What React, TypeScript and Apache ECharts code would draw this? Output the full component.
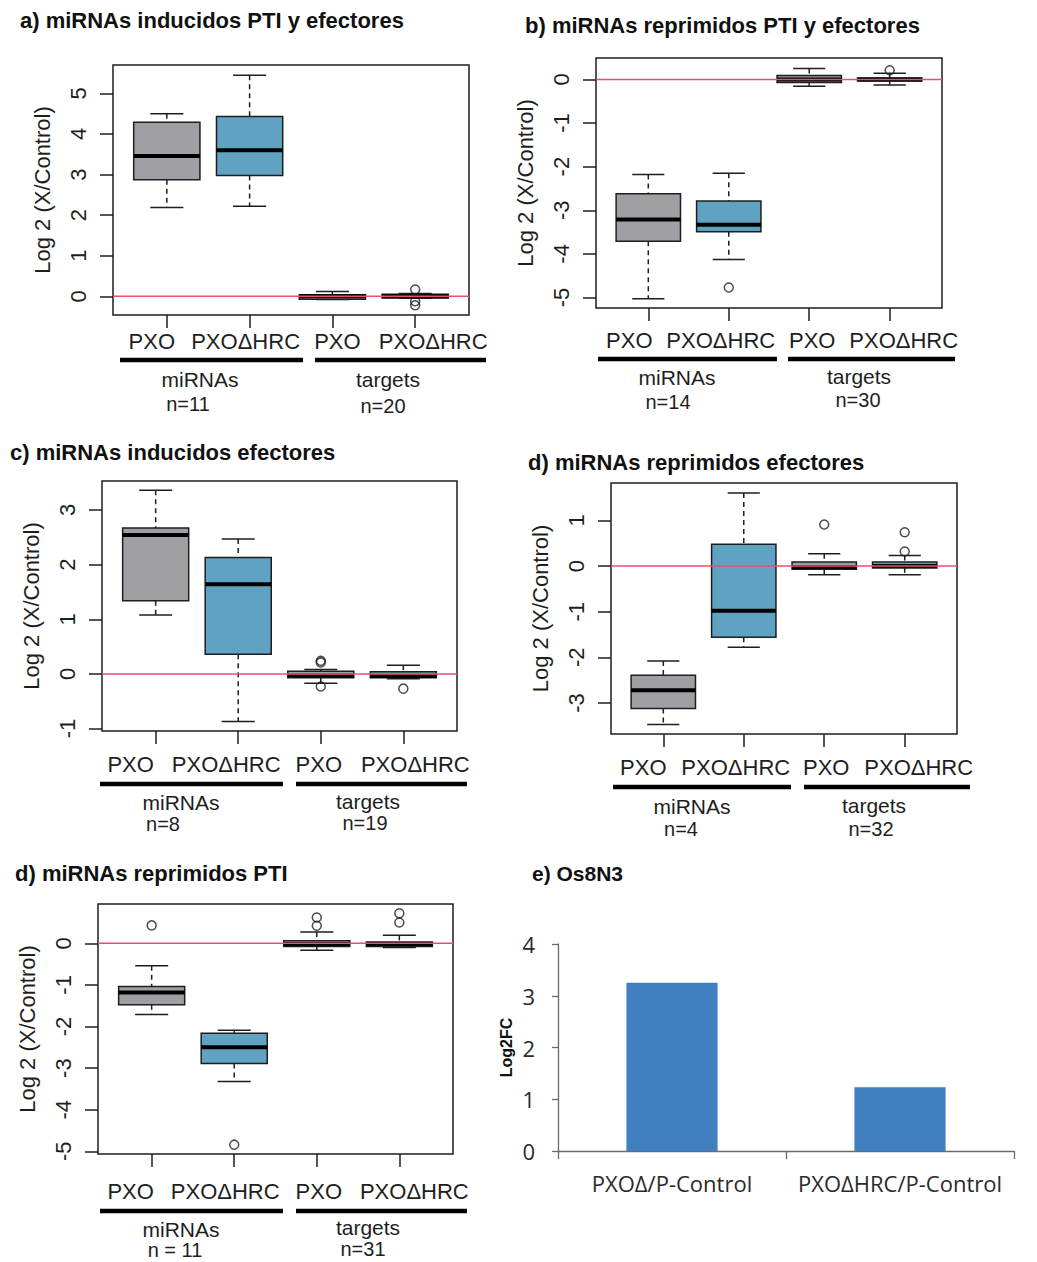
import React, { useEffect, useRef } from 'react';
import * as echarts from 'echarts';

const PAGE_W = 1037;
const PAGE_H = 1262;

// Box order inside every boxplot panel
const BOX_LABELS = ['PXO', 'PXOΔHRC', 'PXO', 'PXOΔHRC'];
const BOX_POS = [1, 2, 3, 4];
const GROUP_NAMES = ['miRNAs', 'targets'];

// Five-number summaries per box: [min, Q1, median, Q3, max]
const statsA = [
  [2.19, 2.87, 3.46, 4.29, 4.5],
  [2.22, 2.98, 3.6, 4.43, 5.45],
  [-0.08, -0.07, 0.0, 0.04, 0.12],
  [-0.05, -0.04, 0.0, 0.05, 0.07],
];
const outliersA = [[4, 0.17], [4, -0.12], [4, -0.22]];
const countsA = ['n=11', 'n=20'];
const yTicksA = [0, 1, 2, 3, 4, 5];

const statsB = [
  [-5.03, -3.71, -3.21, -2.62, -2.18],
  [-4.13, -3.49, -3.33, -2.79, -2.15],
  [-0.16, -0.07, 0.0, 0.09, 0.25],
  [-0.13, -0.04, 0.0, 0.03, 0.14],
];
const outliersB = [[2, -4.77], [4, 0.21]];
const countsB = ['n=14', 'n=30'];
const yTicksB = [-5, -4, -3, -2, -1, 0];

const statsC = [
  [1.08, 1.34, 2.54, 2.67, 3.36],
  [-0.87, 0.36, 1.64, 2.13, 2.47],
  [-0.17, -0.07, -0.03, 0.05, 0.08],
  [-0.09, -0.07, -0.04, 0.04, 0.16],
];
const outliersC = [[3, 0.24], [3, 0.21], [3, -0.23], [4, -0.27]];
const countsC = ['n=8', 'n=19'];
const yTicksC = [-1, 0, 1, 2, 3];

const statsD = [
  [-3.47, -3.12, -2.72, -2.39, -2.08],
  [-1.78, -1.56, -0.98, 0.48, 1.6],
  [-0.19, -0.07, -0.02, 0.09, 0.27],
  [-0.19, -0.04, 0.0, 0.09, 0.23],
];
const outliersD = [[3, 0.91], [4, 0.74], [4, 0.32]];
const countsD = ['n=4', 'n=32'];
const yTicksD = [-3, -2, -1, 0, 1];

const statsF = [
  [-1.71, -1.48, -1.18, -1.04, -0.54],
  [-3.32, -2.89, -2.5, -2.16, -2.09],
  [-0.17, -0.08, -0.02, 0.06, 0.27],
  [-0.1, -0.08, -0.02, 0.03, 0.19],
];
const outliersF = [[1, 0.43], [2, -4.84], [3, 0.62], [3, 0.42], [4, 0.72], [4, 0.5]];
const countsF = ['n = 11', 'n=31'];
const yTicksF = [-5, -4, -3, -2, -1, 0];

// Os8N3 bar panel
const os8Categories = ['PXOΔ/P-Control', 'PXOΔHRC/P-Control'];
const os8Values = [3.25, 1.23];

const INK = '#1e1e1e';
const RED = '#e8506e';
const BOX_FILLS = ['#a0a0a4', '#5fa2c2'];
const BAR_BLUE = '#4180c0';
const R_FONT = '"Liberation Sans", Arial, sans-serif';
const XL_FONT = '"Open Sans", "Noto Sans", sans-serif';
const X_MIN = 0.35;
const X_MAX = 4.65;

const PANELS = [
  {
    title: 'a) miRNAs inducidos PTI y efectores', titleAt: [20, 20],
    grid: { left: 113, top: 65, width: 356, height: 250 },
    yMin: -0.46, yMax: 5.7, yTicks: yTicksA, stats: statsA, outliers: outliersA, counts: countsA,
    shift: [-15, -4, 5, 18], labelMargin: 15, barY: 360, bars: [[120, 303], [315, 486]],
    groupAt: [[200, 379], [388, 379]], countAt: [[188, 404], [383, 406]],
  },
  {
    title: 'b) miRNAs reprimidos PTI y efectores', titleAt: [525, 25],
    grid: { left: 596, top: 58, width: 346, height: 250 },
    yMin: -5.24, yMax: 0.49, yTicks: yTicksB, stats: statsB, outliers: outliersB, counts: countsB,
    shift: [-19, -8, 3, 14], labelMargin: 21, barY: 359, bars: [[598, 777], [788, 955]],
    groupAt: [[677, 377], [859, 376]], countAt: [[668, 402], [858, 400]],
  },
  {
    title: 'c) miRNAs inducidos efectores', titleAt: [10, 452],
    grid: { left: 102, top: 481, width: 355, height: 250 },
    yMin: -1.045, yMax: 3.53, yTicks: yTicksC, stats: statsC, outliers: outliersC, counts: countsC,
    shift: [-25, -12, -2, 12], labelMargin: 22, barY: 784, bars: [[100, 283], [296, 467]],
    groupAt: [[181, 802], [368, 801]], countAt: [[163, 824], [365, 823]],
  },
  {
    title: 'd) miRNAs reprimidos efectores', titleAt: [528, 462],
    grid: { left: 611, top: 483, width: 346, height: 251 },
    yMin: -3.68, yMax: 1.82, yTicks: yTicksD, stats: statsD, outliers: outliersD, counts: countsD,
    shift: [-20, -8, 2, 14], labelMargin: 22, barY: 787, bars: [[613, 791], [804, 970]],
    groupAt: [[692, 806], [874, 805]], countAt: [[681, 829], [871, 829]],
  },
  {
    title: 'd) miRNAs reprimidos PTI', titleAt: [15, 873],
    grid: { left: 98, top: 904, width: 355, height: 250 },
    yMin: -5.064, yMax: 0.944, yTicks: yTicksF, stats: statsF, outliers: outliersF, counts: countsF,
    shift: [-21, -9, 2, 15], labelMargin: 26, barY: 1211, bars: [[100, 283], [296, 467]],
    groupAt: [[181, 1229], [368, 1227]], countAt: [[175, 1250], [363, 1249]],
  },
];

function textEl(text: string, x: number, y: number, font: string, align: string = 'center', fill: string = INK) {
  return {
    type: 'text',
    silent: true,
    style: {
      text, x, y, font, fill,
      align, verticalAlign: 'middle',
      textAlign: align, textVerticalAlign: 'middle',
    },
  };
}

function richFor(shift: number[]) {
  const rich: Record<string, any> = {};
  shift.forEach((s, i) => {
    rich['s' + i] = {
      fontFamily: R_FONT,
      fontSize: 22,
      color: INK,
      padding: s < 0 ? [0, -2 * s, 0, 0] : [0, 0, 0, 2 * s],
    };
  });
  return rich;
}

function buildOption() {
  const grids: any[] = [];
  const xAxes: any[] = [];
  const yAxes: any[] = [];
  const series: any[] = [];
  const graphics: any[] = [];

  PANELS.forEach((p, gi) => {
    grids.push({
      ...p.grid,
      show: true,
      borderColor: INK,
      borderWidth: 1.5,
      backgroundColor: 'transparent',
      containLabel: false,
      outerBoundsMode: 'none',
    });
    xAxes.push({
      type: 'value',
      gridIndex: gi,
      position: 'bottom',
      min: X_MIN,
      max: X_MAX,
      axisLine: { show: false, onZero: false },
      splitLine: { show: false },
      axisTick: {
        show: true, customValues: BOX_POS, length: 13,
        lineStyle: { color: INK, width: 1.5 },
      },
      axisLabel: {
        show: true,
        customValues: BOX_POS,
        margin: p.labelMargin,
        formatter: (v: number) => {
          const i = Math.round(v) - 1;
          return `{s${i}|${BOX_LABELS[i]}}`;
        },
        rich: richFor(p.shift),
      },
    });
    yAxes.push({
      type: 'value',
      gridIndex: gi,
      position: 'left',
      min: p.yMin,
      max: p.yMax,
      axisLine: { show: false, onZero: false },
      splitLine: { show: false },
      axisTick: {
        show: true, customValues: p.yTicks, length: 13,
        lineStyle: { color: INK, width: 1.5 },
      },
      axisLabel: {
        show: true,
        customValues: p.yTicks,
        rotate: 90,
        margin: 24,
        fontFamily: R_FONT,
        fontSize: 22,
        color: INK,
        formatter: (v: number) => String(Math.round(v)),
      },
      name: 'Log 2 (X/Control)',
      nameLocation: 'middle',
      nameGap: 60,
      nameTextStyle: { fontFamily: R_FONT, fontSize: 22, color: INK },
    });

    series.push({
      type: 'custom',
      xAxisIndex: gi,
      yAxisIndex: gi,
      data: p.stats.map((s, i) => [BOX_POS[i], ...s]),
      encode: { x: 0, y: [1, 2, 3, 4, 5] },
      silent: true,
      renderItem: (params: any, api: any) => {
        const x = api.value(0);
        const [lo, q1, md, q3, hi] = [1, 2, 3, 4, 5].map((k) => api.coord([x, api.value(k)]));
        const bw = api.size([0.8, 0])[0];
        const cx = lo[0];
        const half = bw / 2;
        const cap = bw * 0.25;
        const fill = BOX_FILLS[params.dataIndex % 2];
        const dash = { stroke: INK, lineWidth: 1.5, lineDash: [5, 4] };
        const solid = { stroke: INK, lineWidth: 1.5 };
        return {
          type: 'group',
          children: [
            { type: 'line', shape: { x1: cx, y1: hi[1], x2: cx, y2: q3[1] }, style: dash },
            { type: 'line', shape: { x1: cx, y1: q1[1], x2: cx, y2: lo[1] }, style: dash },
            { type: 'line', shape: { x1: cx - cap, y1: hi[1], x2: cx + cap, y2: hi[1] }, style: solid },
            { type: 'line', shape: { x1: cx - cap, y1: lo[1], x2: cx + cap, y2: lo[1] }, style: solid },
            {
              type: 'rect',
              shape: { x: cx - half, y: q3[1], width: bw, height: q1[1] - q3[1] },
              style: { fill, stroke: INK, lineWidth: 1.5 },
            },
            {
              type: 'line',
              shape: { x1: cx - half, y1: md[1], x2: cx + half, y2: md[1] },
              style: { stroke: '#000', lineWidth: 4 },
            },
          ],
        };
      },
      z: 2,
    });

    series.push({
      type: 'scatter',
      xAxisIndex: gi,
      yAxisIndex: gi,
      data: p.outliers,
      symbol: 'circle',
      symbolSize: 9,
      silent: true,
      itemStyle: { color: 'rgba(255,255,255,0)', borderColor: INK, borderWidth: 1.5 },
      z: 3,
    });

    // reference line at zero
    series.push({
      type: 'line',
      xAxisIndex: gi,
      yAxisIndex: gi,
      data: [[X_MIN, 0], [X_MAX, 0]],
      symbol: 'none',
      silent: true,
      lineStyle: { color: RED, width: 1.5 },
      z: 4,
    });

    graphics.push(textEl(p.title, p.titleAt[0], p.titleAt[1], `bold 22px ${R_FONT}`, 'left', '#111'));
    p.bars.forEach(([x1, x2]) => {
      graphics.push({
        type: 'line',
        silent: true,
        shape: { x1, y1: p.barY, x2, y2: p.barY },
        style: { stroke: '#000', lineWidth: 4.5 },
      });
    });
    GROUP_NAMES.forEach((g, k) => {
      graphics.push(textEl(g, p.groupAt[k][0], p.groupAt[k][1], `21px ${R_FONT}`));
      graphics.push(textEl(p.counts[k], p.countAt[k][0], p.countAt[k][1], `20px ${R_FONT}`));
    });
  });

  // Os8N3 bar chart
  const ei = PANELS.length;
  grids.push({ left: 558, top: 944, width: 456, height: 207, containLabel: false, outerBoundsMode: 'none' });
  xAxes.push({
    type: 'category',
    gridIndex: ei,
    data: os8Categories,
    axisLine: { show: true, lineStyle: { color: '#6b6b6b', width: 1.3 } },
    axisTick: { show: true, length: 8, alignWithLabel: false, lineStyle: { color: '#6b6b6b', width: 1.3 } },
    axisLabel: { interval: 0, fontFamily: XL_FONT, fontSize: 22, color: '#2a2a2a', margin: 21 },
    splitLine: { show: false },
  });
  yAxes.push({
    type: 'value',
    gridIndex: ei,
    min: 0,
    max: 4,
    interval: 1,
    axisLine: { show: true, lineStyle: { color: '#6b6b6b', width: 1.3 } },
    axisTick: { show: true, length: 6, lineStyle: { color: '#6b6b6b', width: 1.3 } },
    axisLabel: { fontFamily: XL_FONT, fontSize: 22, color: '#2a2a2a', margin: 23 },
    splitLine: { show: false },
    name: 'Log2FC',
    nameLocation: 'middle',
    nameGap: 44,
    nameTextStyle: { fontFamily: R_FONT, fontWeight: 'bold', fontSize: 16, color: '#111' },
  });
  series.push({
    type: 'bar',
    xAxisIndex: ei,
    yAxisIndex: ei,
    data: os8Values,
    barWidth: '40%',
    silent: true,
    itemStyle: { color: BAR_BLUE },
  });
  graphics.push(textEl('e) Os8N3', 532, 873, `bold 21px ${R_FONT}`, 'left', '#111'));

  return {
    animation: false,
    backgroundColor: '#ffffff',
    grid: grids,
    xAxis: xAxes,
    yAxis: yAxes,
    series,
    graphic: graphics,
  };
}

export default function App() {
  const ref = useRef<HTMLDivElement>(null);
  useEffect(() => {
    if (!ref.current) return;
    const chart = echarts.init(ref.current, undefined, { renderer: 'svg' });
    chart.setOption(buildOption() as any);
    return () => chart.dispose();
  }, []);
  return (
    <div
      ref={ref}
      style={{ position: 'absolute', left: 0, top: 0, width: PAGE_W, height: PAGE_H, background: '#fff' }}
    />
  );
}
